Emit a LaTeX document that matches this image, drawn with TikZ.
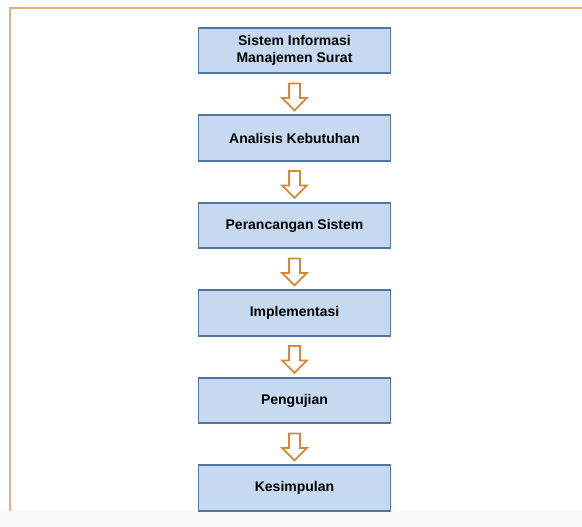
\documentclass[tikz,border=0pt]{standalone}
\usepackage{fontspec}
\setmainfont{Liberation Sans}
\usetikzlibrary{positioning,shapes.arrows,calc}
\definecolor{boxfill}{HTML}{C6D9F1}
\definecolor{boxline}{HTML}{52759F}
\definecolor{arrowline}{HTML}{D4883C}
\definecolor{frameline}{HTML}{E2B07A}
\definecolor{stripfill}{HTML}{FCF7F9}

\begin{document}
\begin{tikzpicture}[
        x=1pt, y=1pt,
        node distance=40.2pt,
        stage/.style={draw=boxline, line width=1.8pt, fill=boxfill, align=center,
            minimum width=192pt, minimum height=45.5pt, inner sep=2pt,
            font=\fontsize{14}{17}\selectfont\bfseries},
        downarrow/.style={single arrow, draw=arrowline, line width=1.8pt, fill=white,
            rotate=-90, minimum height=27pt, minimum width=22pt,
            inner xsep=0pt, inner ysep=4.5pt}
    ]

    % Frame
    \useasboundingbox (0,0) rectangle (582,-527);
    \fill[stripfill] (0,-511) rectangle (582,-527);
    \draw[frameline, line width=2pt] (10,-511) -- (10,-8) -- (582,-8);

    % Nodes
    \node (simas)[stage] at (294.5,-50.5) {Sistem Informasi \\ Manajemen Surat};
    \node (analisis)[stage, below=of simas] {Analisis Kebutuhan};
    \node (rancang)[stage, below=of analisis] {Perancangan Sistem};
    \node (implement)[stage, below=of rancang] {Implementasi};
    \node (uji)[stage, below=of implement] {Pengujian};
    \node (simpul)[stage, below=of uji] {Kesimpulan};

    % Arrows
    \node (a1)[downarrow] at ($(simas.south)!0.5!(analisis.north)$) {};
    \node (a2)[downarrow] at ($(analisis.south)!0.5!(rancang.north)$) {};
    \node (a3)[downarrow] at ($(rancang.south)!0.5!(implement.north)$) {};
    \node (a4)[downarrow] at ($(implement.south)!0.5!(uji.north)$) {};
    \node (a5)[downarrow] at ($(uji.south)!0.5!(simpul.north)$) {};

\end{tikzpicture}
\end{document}
